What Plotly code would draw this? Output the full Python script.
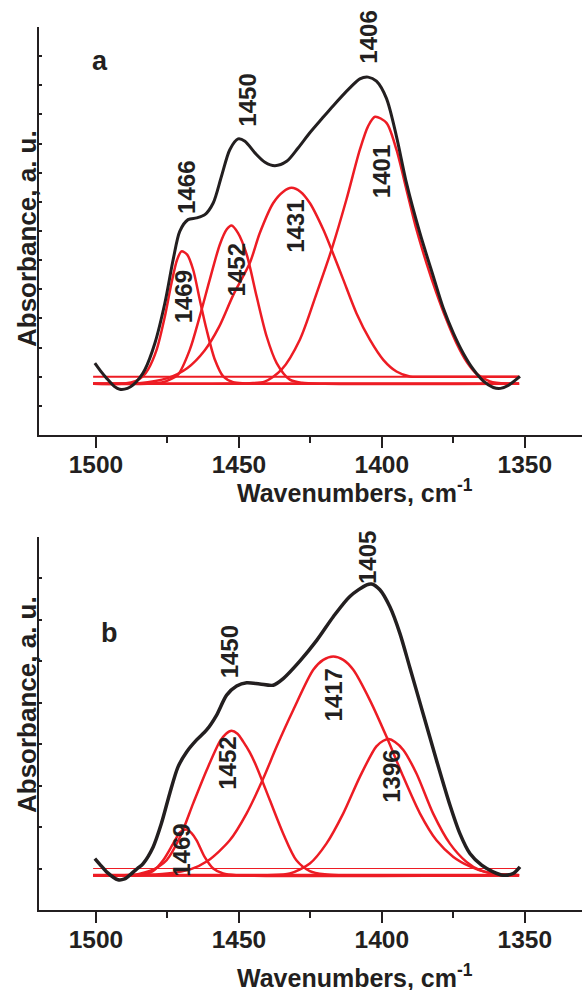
import plotly.graph_objects as go

# ---------------- data ----------------
x_ticks = [1500, 1450, 1400, 1350]
x_tick_labels = ["1500", "1450", "1400", "1350"]

# Panel a
a_black_wn = [1500.4, 1498, 1496.3, 1493.5, 1491.7, 1489, 1487.0, 1484.8, 1482.9, 1479.4, 1475.9, 1473.0,
              1470.7, 1467.8, 1464.8, 1461.9, 1459.0, 1456.1, 1453.2, 1450.3, 1447.9, 1444.4, 1440.9,
              1437.4, 1433.3, 1429.3, 1425.2, 1421.0, 1417.0, 1411.2, 1407.7, 1404.8, 1401.9, 1398.4,
              1394.9, 1391.4, 1386.7, 1382.0, 1378.5, 1375.0, 1371.5, 1368.0, 1364.5, 1361.0, 1358.5,
              1355.8, 1351.7]
a_black_abs = [1.47, 1.15, 0.95, 0.66, 0.57, 0.60, 0.72, 0.95, 1.24, 2.15, 3.53, 5.02,
               5.99, 6.39, 6.45, 6.56, 6.96, 7.88, 8.79, 9.16, 9.08, 8.68, 8.36,
               8.24, 8.39, 8.85, 9.37, 9.85, 10.3, 10.91, 11.22, 11.28, 11.14, 10.55,
               9.25, 7.65, 5.93, 4.44, 3.35, 2.5, 1.8, 1.25, 0.85, 0.63, 0.60,
               0.70, 1.01]

a_1469_wn = [1501, 1490, 1486, 1483.5, 1481.8, 1478.8, 1475.9, 1473.6, 1471.6, 1470.1, 1468.1, 1466.0,
             1463.7, 1461.3, 1458.4, 1455.5, 1452, 1448, 1440, 1352]
a_1469_abs = [0.76, 0.77, 0.86, 1.02, 1.24, 1.92, 3.07, 4.21, 5.02, 5.30, 5.19, 4.67,
              3.64, 2.61, 1.58, 1.01, 0.81, 0.77, 0.76, 0.76]

a_1452_wn = [1501, 1482, 1477, 1474, 1471.3, 1467.2, 1463.7, 1460.2, 1456.7, 1454.3, 1452.6, 1450.3,
             1447.3, 1443.8, 1440.3, 1436.8, 1432.2, 1428, 1420, 1352]
a_1452_abs = [0.76, 0.76, 0.80, 0.91, 1.07, 1.92, 3.07, 4.33, 5.53, 6.05, 6.19, 5.93,
              5.2, 3.75, 2.38, 1.47, 0.90, 0.79, 0.76, 0.76]

a_1431_wn = [1501, 1485, 1475, 1468, 1462, 1457, 1452, 1446.2, 1442.7, 1438.0, 1434.5, 1431.6, 1428.5,
             1425.2, 1420.5, 1417.6, 1413.5, 1408.9, 1404.2, 1399.5, 1394.9, 1390.2, 1385, 1352]
a_1431_abs = [0.76, 0.78, 0.95, 1.3, 1.9, 2.7, 3.8, 4.90, 5.93, 6.96, 7.35, 7.48, 7.35,
              6.96, 6.05, 5.36, 4.33, 3.18, 2.27, 1.58, 1.18, 1.01, 1.0, 1.0]

a_1401_wn = [1501, 1460, 1452, 1446.2, 1441, 1435.1, 1428.7, 1422.8, 1417.6, 1412.4, 1407.7, 1404.8,
             1402.4, 1398.4, 1394.9, 1391.4, 1387.9, 1384.4, 1380.9, 1377.4, 1373.9, 1370.4, 1366.9,
             1362.2, 1356.4, 1352]
a_1401_abs = [0.76, 0.76, 0.77, 0.78, 0.83, 1.24, 2.27, 3.87, 5.36, 7.08, 8.79, 9.6,
              9.92, 9.71, 8.79, 7.42, 6.05, 4.90, 3.87, 2.95, 2.15, 1.52, 1.10,
              0.84, 0.76, 0.76]

a_base_wn = [1501, 1352]
a_base_upper = [1.0, 1.0]
a_base_lower = [0.76, 0.76]

a_peak_labels = ["1466", "1450", "1469", "1452", "1431", "1406", "1401"]
a_label_wn = [1468.3, 1447.1, 1469.5, 1450.8, 1430.2, 1404.6, 1400.3]
a_label_abs = [7.50, 10.48, 3.73, 4.67, 6.16, 12.66, 8.02]

# Panel b
b_black_wn = [1500.4, 1498, 1496.3, 1492.3, 1490, 1488.2, 1485.5, 1483.5, 1480.0, 1477.1, 1474.2, 1471.3,
              1468.3, 1464.8, 1461.3, 1457.8, 1454.3, 1450.8, 1447.3, 1442.7, 1438.0, 1434.5, 1428.7,
              1422.8, 1417.0, 1411.2, 1405.3, 1403.6, 1400.7, 1397.2, 1393.7, 1390.2, 1385.6, 1380.9,
              1376.2, 1372.7, 1369.2, 1365.1, 1361.1, 1357.6, 1354.1, 1351.7]
b_black_abs = [0.24, 0.05, -0.08, -0.27, -0.25, -0.16, 0.0, 0.12, 0.52, 1.09, 1.81, 2.45,
               2.81, 3.10, 3.34, 3.70, 4.18, 4.40, 4.48, 4.45, 4.42, 4.58, 5.0,
               5.5, 6.07, 6.56, 6.84, 6.86, 6.72, 6.31, 5.67, 4.84, 3.74, 2.61,
               1.53, 0.84, 0.36, 0.08, -0.08, -0.16, -0.12, 0.04]

b_1469_wn = [1501, 1486, 1482, 1480, 1476.5, 1473.0, 1470.5, 1468.3, 1466.5, 1464.8, 1462.0, 1459.0,
             1455.5, 1451, 1352]
b_1469_abs = [-0.16, -0.16, -0.12, -0.06, 0.20, 0.60, 0.88, 0.94, 0.85, 0.68, 0.28, 0.0,
              -0.12, -0.16, -0.16]

b_1452_wn = [1501, 1490, 1485, 1481.2, 1478, 1475.3, 1470.6, 1466.0, 1461.3, 1456.7, 1454.5, 1452.6,
             1450.5, 1448.5, 1446.2, 1443.8, 1439.2, 1434.5, 1429.9, 1425.2, 1420, 1415, 1352]
b_1452_abs = [-0.16, -0.16, -0.13, -0.06, 0.05, 0.20, 0.76, 1.57, 2.37, 3.06, 3.25, 3.32,
              3.25, 3.06, 2.8, 2.45, 1.65, 0.84, 0.20, -0.06, -0.14, -0.16, -0.16]

b_1417_wn = [1501, 1485, 1475, 1467, 1461, 1453.2, 1447.3, 1441.5, 1436.8, 1431.0, 1424.0, 1420.5, 1417.0,
             1413.5, 1410.0, 1404.2, 1398.4, 1392.5, 1386.7, 1380.9, 1375.0, 1369.2, 1364, 1358, 1352]
b_1417_abs = [-0.16, -0.16, -0.12, -0.02, 0.18, 0.68, 1.33, 2.17, 2.94, 3.82, 4.79, 5.03, 5.11,
              5.03, 4.79, 4.06, 3.18, 2.21, 1.33, 0.68, 0.28, 0.05, -0.08, -0.14, -0.16]

b_1396_wn = [1501, 1440, 1432.2, 1425.2, 1419.4, 1413.5, 1407.7, 1402.0, 1399.5, 1397.6, 1395.4, 1392.5,
             1387.9, 1382.1, 1376.2, 1370.4, 1365.7, 1360, 1352]
b_1396_abs = [-0.16, -0.16, -0.12, 0.12, 0.60, 1.33, 2.21, 2.94, 3.08, 3.12, 3.05, 2.86,
              2.29, 1.33, 0.60, 0.16, -0.04, -0.13, -0.16]

b_base_wn = [1501, 1352]
b_base_upper = [0.0, 0.0]
b_base_lower = [-0.16, -0.16]

b_peak_labels = ["1450", "1452", "1469", "1405", "1417", "1396"]
b_label_wn = [1453.2, 1454.1, 1470.1, 1405.0, 1417.0, 1396.9]
b_label_abs = [5.23, 2.53, 0.44, 7.50, 4.18, 2.23]

# ---------------- styling ----------------
RED = "#ed1c24"
BLACK = "#231f20"
FONT = "Liberation Sans, Arial, sans-serif"

fig = go.Figure()

def red(xs, ys, xa, ya, w=2.5):
    fig.add_trace(go.Scatter(x=xs, y=ys, mode="lines", xaxis=xa, yaxis=ya,
                             line=dict(color=RED, width=w, shape="spline", smoothing=0.8),
                             showlegend=False, hoverinfo="skip"))

# panel a
red(a_base_wn, a_base_upper, "x", "y", 2)
red(a_base_wn, a_base_lower, "x", "y", 2.5)
for xs, ys in [(a_1469_wn, a_1469_abs), (a_1452_wn, a_1452_abs),
               (a_1431_wn, a_1431_abs), (a_1401_wn, a_1401_abs)]:
    red(xs, ys, "x", "y")
fig.add_trace(go.Scatter(x=a_black_wn, y=a_black_abs, mode="lines", xaxis="x", yaxis="y",
                         line=dict(color=BLACK, width=3, shape="spline", smoothing=0.8),
                         showlegend=False, hoverinfo="skip"))

# panel b
red(b_base_wn, b_base_upper, "x2", "y2", 1.2)
red(b_base_wn, b_base_lower, "x2", "y2", 3)
for xs, ys in [(b_1469_wn, b_1469_abs), (b_1452_wn, b_1452_abs),
               (b_1417_wn, b_1417_abs), (b_1396_wn, b_1396_abs)]:
    red(xs, ys, "x2", "y2")
fig.add_trace(go.Scatter(x=b_black_wn, y=b_black_abs, mode="lines", xaxis="x2", yaxis="y2",
                         line=dict(color=BLACK, width=3.5, shape="spline", smoothing=0.8),
                         showlegend=False, hoverinfo="skip"))

W, H = 582, 990
x0 = 38.8 / W

xcommon = dict(range=[1520, 1330], domain=[x0, 1], showline=True, linecolor=BLACK, linewidth=2,
               ticks="outside", ticklen=11, tickwidth=2, tickcolor=BLACK,
               tickvals=x_ticks, ticktext=x_tick_labels, ticklabelstandoff=-4,
               tickfont=dict(family=FONT, size=24.5, color=BLACK, weight="bold"),
               minor=dict(ticks="outside", ticklen=6, tickwidth=2, tickcolor=BLACK, dtick=25, tick0=1500),
               showgrid=False, zeroline=False, mirror=False)
ycommon = dict(showline=True, linecolor=BLACK, linewidth=2, ticks="inside", ticklen=3, tickwidth=1.5,
               tickcolor=BLACK, showticklabels=False, showgrid=False, zeroline=False)

fig.update_layout(
    width=W, height=H, margin=dict(l=0, r=0, t=0, b=0),
    paper_bgcolor="white", plot_bgcolor="white", showlegend=False,
    xaxis=dict(anchor="y", **xcommon),
    yaxis=dict(anchor="x", domain=[(H - 435) / H, (H - 27) / H], range=[-1, 13],
               tickvals=list(range(0, 13)), **ycommon),
    xaxis2=dict(anchor="y2", **xcommon),
    yaxis2=dict(anchor="x2", domain=[(H - 910) / H, (H - 536.7) / H], range=[-1, 8],
                tickvals=list(range(0, 8)), **ycommon),
)

anns = []
lab_font = dict(family=FONT, size=24, color=BLACK, weight="bold")
for t, xw, ya in zip(a_peak_labels, a_label_wn, a_label_abs):
    anns.append(dict(x=xw, y=ya, xref="x", yref="y", text=t, showarrow=False, textangle=-90,
                     xanchor="center", yanchor="middle", font=lab_font))
for t, xw, ya in zip(b_peak_labels, b_label_wn, b_label_abs):
    anns.append(dict(x=xw, y=ya, xref="x2", yref="y2", text=t, showarrow=False, textangle=-90,
                     xanchor="center", yanchor="middle", font=lab_font))
panel_font = dict(family=FONT, size=27, color=BLACK, weight="bold")
anns.append(dict(x=1498.7, y=11.82, xref="x", yref="y", text="a", showarrow=False,
                 xanchor="center", yanchor="middle", font=panel_font))
anns.append(dict(x=1495.2, y=5.68, xref="x2", yref="y2", text="b", showarrow=False,
                 xanchor="center", yanchor="middle", font=panel_font))

title_font = dict(family=FONT, size=25, color=BLACK, weight="bold")
for yc in [(H - 491) / H, (H - 976) / H]:
    anns.append(dict(x=355.3 / W, y=yc, xref="paper", yref="paper",
                     text="Wavenumbers, cm<sup>-1</sup>", showarrow=False,
                     xanchor="center", yanchor="middle", font=title_font))
ytitle_font = dict(family=FONT, size=26, color=BLACK, weight="bold")
for yc in [(H - 239) / H, (H - 705) / H]:
    anns.append(dict(x=27 / W, y=yc, xref="paper", yref="paper", text="Absorbance, a. u.",
                     showarrow=False, textangle=-90, xanchor="center", yanchor="middle",
                     font=ytitle_font))
fig.update_layout(annotations=anns)

fig.write_html("out.html", config={"displayModeBar": False},
               post_script="document.body.style.margin='0';document.body.style.overflow='hidden';")
